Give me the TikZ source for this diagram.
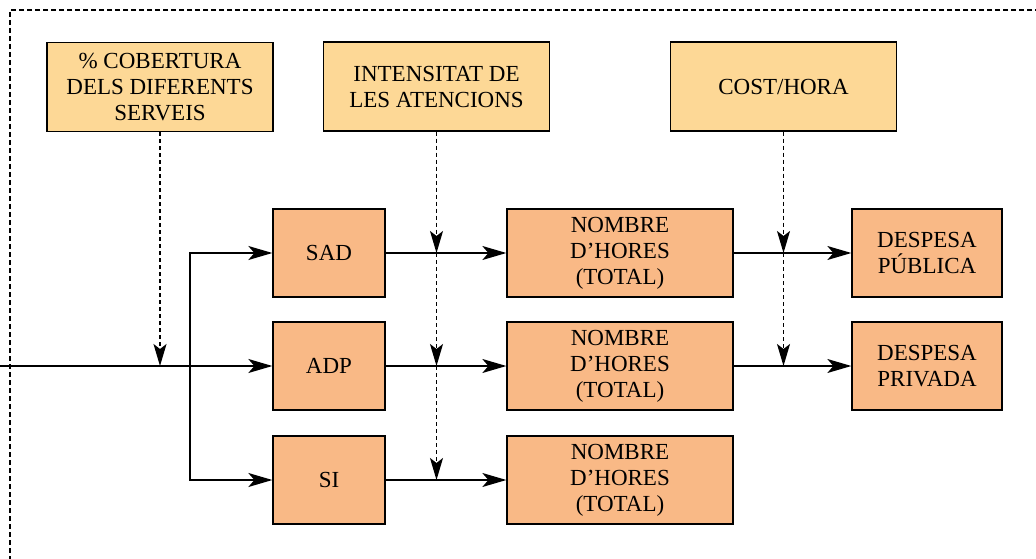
\documentclass[tikz,border=0pt]{standalone}
\usepackage{fontspec}
\setmainfont{Liberation Serif}
\usetikzlibrary{arrows.meta}
\definecolor{topfill}{RGB}{253,216,150}
\definecolor{lowfill}{RGB}{249,185,134}
\tikzset{
  box/.style={draw=black, line width=1.3pt, inner sep=0pt, align=center,
    font=\fontsize{23}{26}\selectfont},
  topbox/.style={box, fill=topfill, minimum width=226pt, minimum height=89pt},
  svcbox/.style={box, fill=lowfill, minimum width=112pt, minimum height=88pt},
  hrbox/.style={box, fill=lowfill, minimum width=226pt, minimum height=88pt},
  expbox/.style={box, fill=lowfill, minimum width=150pt, minimum height=88pt},
  arr/.style={line width=1.4pt, -{Stealth[length=24pt,width=14pt,inset=6pt]}},
  darr/.style={line width=1.4pt, dash pattern=on 4pt off 3pt, -{Stealth[length=22pt,width=13pt,inset=5pt]}},
  frame/.style={line width=1.2pt, dash pattern=on 5pt off 3pt}
}
\begin{document}
\begin{tikzpicture}[x=1pt,y=-1pt]
\useasboundingbox (0,0) rectangle (1036,559);
\draw[frame] (1040,10) -- (10,10) -- (10,563);

\node[topbox] (cob) at (160,87) {\% COBERTURA\\DELS DIFERENTS\\SERVEIS};
\node[topbox] (int) at (436.5,86.5) {INTENSITAT DE\\LES ATENCIONS};
\node[topbox] (cost) at (783.5,86.5) {COST/HORA};

\node[svcbox] (sad) at (329,253) {SAD};
\node[svcbox] (adp) at (329,366) {ADP};
\node[svcbox] (si) at (329,480) {SI};

\node[hrbox] (n1) at (620,253) {NOMBRE\\D’HORES\\(TOTAL)};
\node[hrbox] (n2) at (620,366) {NOMBRE\\D’HORES\\(TOTAL)};
\node[hrbox] (n3) at (620,480) {NOMBRE\\D’HORES\\(TOTAL)};

\node[expbox] (dp) at (927,253) {DESPESA\\PÚBLICA};
\node[expbox] (dv) at (927,366) {DESPESA\\PRIVADA};

\coordinate (in) at (0,366);
\coordinate (br) at (190,366);

\draw[arr] (in) -- (adp.west);
\draw[arr] (br) |- (sad.west);
\draw[arr] (br) |- (si.west);

\draw[arr] (sad.east) -- (n1.west);
\draw[arr] (adp.east) -- (n2.west);
\draw[arr] (si.east) -- (n3.west);
\draw[arr] (n1.east) -- (dp.west);
\draw[arr] (n2.east) -- (dv.west);

\draw[darr] (cob.south) -- (cob.south |- adp.west);

\coordinate (i1) at (int.south |- sad.east);
\coordinate (i2) at (int.south |- adp.east);
\coordinate (i3) at (int.south |- si.east);
\draw[darr] (int.south) -- (i1);
\draw[darr] (i1) -- (i2);
\draw[darr] (i2) -- (i3);

\coordinate (c1) at (cost.south |- n1.east);
\coordinate (c2) at (cost.south |- n2.east);
\draw[darr] (cost.south) -- (c1);
\draw[darr] (c1) -- (c2);
\end{tikzpicture}
\end{document}
